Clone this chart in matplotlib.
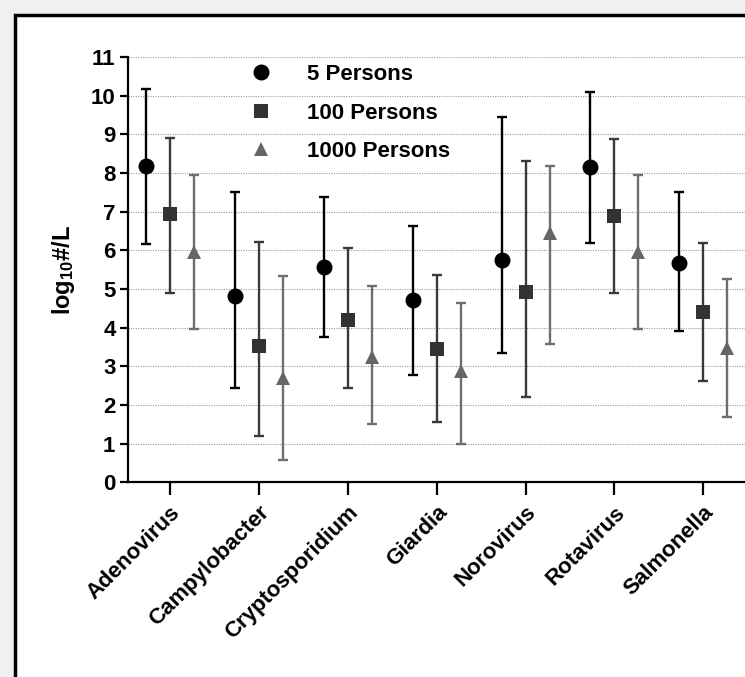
import matplotlib
matplotlib.use("Agg")
import matplotlib.pyplot as plt
from matplotlib.patches import Rectangle
import numpy as np

categories = ["Adenovirus", "Campylobacter", "Cryptosporidium", "Giardia",
              "Norovirus", "Rotavirus", "Salmonella"]
series = ["5 Persons", "100 Persons", "1000 Persons"]

mean_5 = [8.18, 4.82, 5.56, 4.71, 5.74, 8.15, 5.68]
low_5 = [6.16, 2.45, 3.77, 2.78, 3.35, 6.20, 3.92]
high_5 = [10.18, 7.50, 7.38, 6.63, 9.45, 10.10, 7.50]

mean_100 = [6.93, 3.52, 4.21, 3.46, 4.92, 6.89, 4.40]
low_100 = [4.90, 1.20, 2.43, 1.55, 2.21, 4.89, 2.62]
high_100 = [8.91, 6.21, 6.07, 5.36, 8.32, 8.89, 6.19]

mean_1000 = [5.96, 2.70, 3.23, 2.89, 6.45, 5.96, 3.47]
low_1000 = [3.96, 0.57, 1.50, 0.99, 3.57, 3.96, 1.70]
high_1000 = [7.96, 5.33, 5.09, 4.63, 8.18, 7.95, 5.26]

plt.rcParams['font.family'] = ['Liberation Sans', 'DejaVu Sans']
plt.rcParams['mathtext.default'] = 'regular'

W, H = 745, 677
fig = plt.figure(figsize=(W / 100, H / 100), dpi=100, facecolor='#f0f0f0')

# white panel with black border (extends off the right/bottom)
fig.patches.append(Rectangle((15 / W, -0.2), 1.5, 1 - 15 / H + 0.2,
                             transform=fig.transFigure, facecolor='white',
                             edgecolor='black', linewidth=2.5, zorder=-10))

ax_left, ax_right = 128 / W, 1.0
ax_bottom, ax_top = 1 - 482.4 / H, 1 - 57 / H
ax = fig.add_axes([ax_left, ax_bottom, ax_right - ax_left, ax_top - ax_bottom])
ax.set_facecolor('none')

x = np.arange(len(categories))
offsets = [-0.27, 0.0, 0.27]
means = [mean_5, mean_100, mean_1000]
lows = [low_5, low_100, low_1000]
highs = [high_5, high_100, high_1000]
markers = ['o', 's', '^']
mcolors = ['#000000', '#333333', '#666666']
ecolors = ['#000000', '#3a3a3a', '#6e6e6e']
msizes = [11.5, 10.5, 10.5]

handles = []
for i in range(3):
    m = np.array(means[i]); lo = np.array(lows[i]); hi = np.array(highs[i])
    eb = ax.errorbar(x + offsets[i], m, yerr=[m - lo, hi - m], fmt=markers[i],
                     color=mcolors[i], ecolor=ecolors[i], elinewidth=1.7,
                     capsize=3.3, capthick=1.7, markersize=msizes[i],
                     zorder=3, label=series[i])
    eb.lines[0].set_markeredgewidth(0)
    handles.append(eb.lines[0])

ax.set_ylim(0, 11)
ax.set_xlim(-0.472, (745 - 170) / 88.9)
ax.set_yticks(range(0, 12))
ax.set_xticks(x)
ax.set_xticklabels(categories, rotation=45, ha='right', rotation_mode='anchor',
                   fontsize=16, fontweight='bold')
for lab in ax.get_yticklabels():
    lab.set_fontsize(16)
    lab.set_fontweight('bold')

for v in range(1, 12):
    ax.axhline(v, color='#9a9a9a', linewidth=0.8, linestyle=(0, (1, 1.2)), zorder=1)

for s in ['top', 'right']:
    ax.spines[s].set_visible(False)
for s in ['left', 'bottom']:
    ax.spines[s].set_linewidth(1.6)
ax.tick_params(axis='y', direction='out', length=6, width=1.6, pad=3)
ax.tick_params(axis='x', direction='out', length=9, width=1.6, pad=5)

ax.set_ylabel(r'log$_{10}$#/L', fontsize=17, fontweight='bold', labelpad=10)

leg = ax.legend(handles=handles, labels=series, loc='upper left',
                bbox_to_anchor=((240 - 128) / (745 - 128), 0.983),
                frameon=False, prop={'weight': 'bold', 'size': 16},
                handlelength=1.9, handletextpad=1.1, borderpad=0,
                borderaxespad=0, labelspacing=0.78, numpoints=1)

fig.savefig('out.png', dpi=100, facecolor=fig.get_facecolor())
